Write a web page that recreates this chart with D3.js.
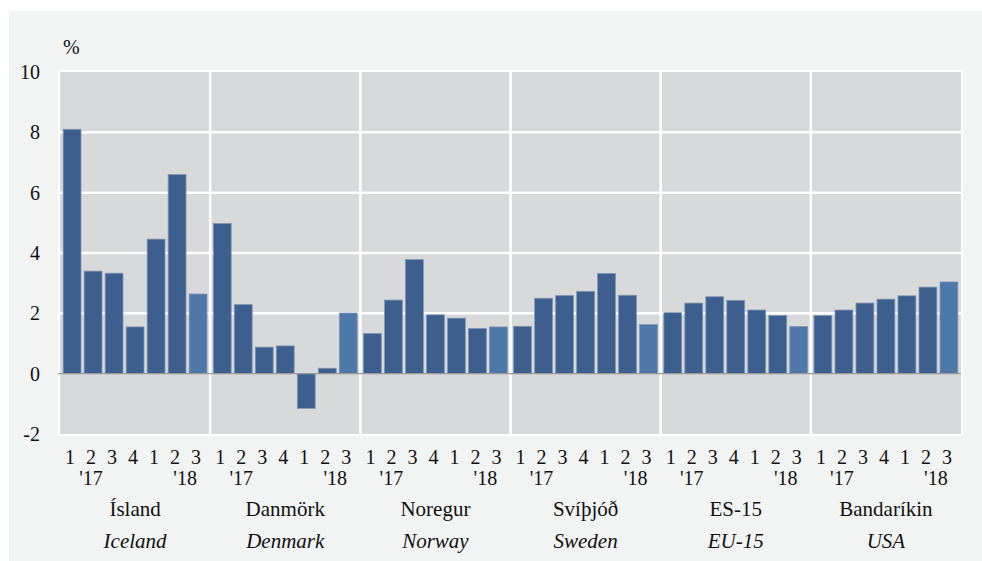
<!DOCTYPE html>
<html>
<head>
<meta charset="utf-8">
<script src="https://cdn.jsdelivr.net/npm/d3@7"></script>
<style>
  body { margin: 0; background: #ffffff; }
  svg { display: block; }
  svg text { font-family: 'Liberation Serif' !important; }
</style>
</head>
<body>
<script>
var countries = ['Ísland', 'Danmörk', 'Noregur', 'Svíþjóð', 'ES-15', 'Bandaríkin'];
var countriesEn = ['Iceland', 'Denmark', 'Norway', 'Sweden', 'EU-15', 'USA'];
var quarters = ['1', '2', '3', '4', '1', '2', '3'];
var yearLabels = ['', "'17", '', '', '', "'18", ''];

var iceland = [8.1, 3.4, 3.33, 1.55, 4.46, 6.6, 2.64];
var denmark = [4.98, 2.29, 0.88, 0.92, -1.15, 0.18, 2.01];
var norway = [1.33, 2.44, 3.78, 1.95, 1.84, 1.5, 1.55];
var sweden = [1.57, 2.5, 2.59, 2.73, 3.32, 2.6, 1.63];
var eu15 = [2.02, 2.34, 2.55, 2.43, 2.11, 1.93, 1.56];
var usa = [1.93, 2.11, 2.34, 2.47, 2.58, 2.87, 3.04];
var yTicks = [-2, 0, 2, 4, 6, 8, 10];

var series = [iceland, denmark, norway, sweden, eu15, usa];

var FONT = "'Liberation Serif'";
var width = 982, height = 561;
var margin = { left: 60, right: 21, top: 72, bottom: 127 };

var svg = d3.select('body').append('svg').attr('width', width).attr('height', height);

// panel background
svg.append('rect').attr('x', 9).attr('y', 11).attr('width', width - 9).attr('height', height - 11)
    .attr('fill', '#f2f3f3');

var plotW = width - margin.left - margin.right,
    plotH = height - margin.top - margin.bottom;

var x0 = d3.scaleBand().domain(countries).range([0, plotW]);
var x1 = d3.scaleBand().domain(d3.range(quarters.length)).range([0, x0.bandwidth()])
    .paddingInner(0.15).paddingOuter(0.15);
var y = d3.scaleLinear().domain([-2, 10]).range([plotH, 0]);

var g = svg.append('g').attr('transform', 'translate(' + margin.left + ',' + margin.top + ')');

g.append('rect').attr('x', -1).attr('y', -1).attr('width', plotW + 2).attr('height', plotH + 2)
    .attr('fill', '#d8d9db').attr('stroke', '#ffffff').attr('stroke-width', 2);

// horizontal grid
g.selectAll('.hgrid').data(yTicks.filter(function(d) { return d !== 0 && d !== -2 && d !== 10; }))
    .enter().append('line')
    .attr('x1', 0).attr('x2', plotW)
    .attr('y1', function(d) { return y(d); }).attr('y2', function(d) { return y(d); })
    .attr('stroke', '#ffffff').attr('stroke-width', 2.5);

// vertical separators
g.selectAll('.vgrid').data(countries.slice(1)).enter().append('line')
    .attr('x1', function(d) { return x0(d); }).attr('x2', function(d) { return x0(d); })
    .attr('y1', 0).attr('y2', plotH)
    .attr('stroke', '#ffffff').attr('stroke-width', 2.5);

// bars
var groups = g.selectAll('.country').data(countries).enter().append('g')
    .attr('transform', function(d) { return 'translate(' + x0(d) + ',0)'; });

groups.selectAll('rect').data(function(d, i) { return series[i]; }).enter().append('rect')
    .attr('x', function(d, i) { return x1(i); })
    .attr('width', x1.bandwidth())
    .attr('y', function(d) { return y(Math.max(0, d)); })
    .attr('height', function(d) { return Math.abs(y(d) - y(0)); })
    .attr('fill', function(d, i) { return i === quarters.length - 1 ? '#4e77aa' : '#3c5f8f'; })
    .attr('stroke', '#8196b3').attr('stroke-width', 0.8);

// zero line
g.append('line').attr('x1', -2).attr('x2', plotW).attr('y1', y(0)).attr('y2', y(0))
    .attr('stroke', '#9a9a9a').attr('stroke-width', 1.2);

// y axis labels
var yAxis = d3.axisLeft(y).tickValues(yTicks).tickSize(0).tickPadding(20)
    .tickFormat(function(d) { return String(d); });
var ya = g.append('g').call(yAxis);
ya.select('.domain').remove();
ya.attr('font-family', null).attr('font-size', null);
ya.selectAll('text').attr('fill', '#111').style('font-family', FONT).style('font-size', '20px');

svg.append('text').attr('x', 63).attr('y', 54).attr('fill', '#111')
    .style('font-family', FONT).style('font-size', '20px').text('%');

// x labels
groups.selectAll('.q').data(quarters).enter().append('text')
    .attr('x', function(d, i) { return x1(i) + x1.bandwidth() / 2 - 2; })
    .attr('y', plotH + 30).attr('text-anchor', 'middle').attr('fill', '#111')
    .style('font-family', FONT).style('font-size', '20px')
    .text(function(d) { return d; });

groups.selectAll('.yr').data(yearLabels).enter().append('text')
    .attr('x', function(d, i) { return x1(i) + x1.bandwidth() / 2 + (i === 5 ? 8 : -2); })
    .attr('y', plotH + 51).attr('text-anchor', 'middle').attr('fill', '#111')
    .style('font-family', FONT).style('font-size', '20px')
    .text(function(d) { return d; });

groups.append('text').attr('x', x0.bandwidth() / 2).attr('y', plotH + 82)
    .attr('text-anchor', 'middle').attr('fill', '#111')
    .style('font-family', FONT).style('font-size', '21px')
    .text(function(d) { return d; });

groups.append('text').attr('x', x0.bandwidth() / 2).attr('y', plotH + 114)
    .attr('text-anchor', 'middle').attr('fill', '#111')
    .style('font-family', FONT).style('font-size', '21px').style('font-style', 'italic')
    .text(function(d, i) { return countriesEn[i]; });
</script>
</body>
</html>
